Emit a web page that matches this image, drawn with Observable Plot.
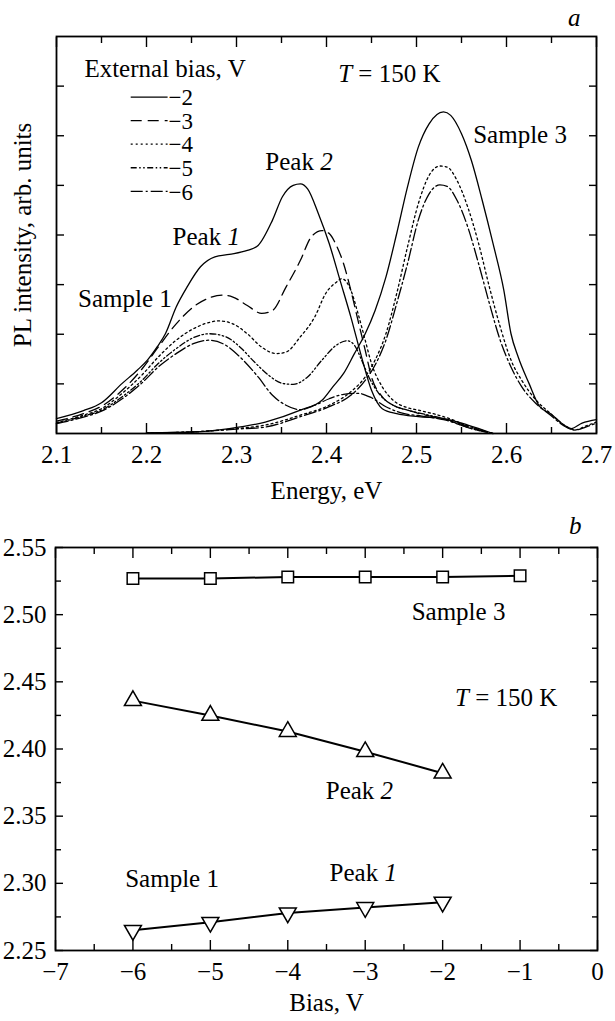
<!DOCTYPE html>
<html><head><meta charset="utf-8">
<script src="https://cdn.jsdelivr.net/npm/d3@7"></script>
<script src="https://cdn.jsdelivr.net/npm/@observablehq/plot@0.6"></script>
<style>
html,body{margin:0;padding:0;background:#fff;}
#wrap{position:relative;width:615px;height:1021px;}
#pa{position:absolute;left:0;top:0;}
#pb{position:absolute;left:0;top:510px;}
svg text{font-family:'Liberation Serif','Times New Roman',serif;}
</style></head><body><div id="wrap"><div id="pa"></div><div id="pb"></div></div>
<script>
// ---------- Panel a: PL spectra [energy eV, intensity arb. units] ----------
const s1_m2 = [[2.100,0.30],[2.130,0.46],[2.150,0.62],[2.173,1.01],[2.190,1.28],[2.201,1.48],[2.212,1.75],[2.221,2.01],[2.233,2.55],[2.245,2.95],[2.260,3.36],[2.276,3.56],[2.292,3.61],[2.312,3.69],[2.324,3.79],[2.340,4.30],[2.351,4.77],[2.363,5.00],[2.371,5.03],[2.379,4.93],[2.391,4.43],[2.403,3.83],[2.415,3.09],[2.427,2.35],[2.439,1.54],[2.450,0.87],[2.462,0.50],[2.478,0.40],[2.502,0.34],[2.530,0.30],[2.557,0.17],[2.585,0.00]];
const s1_m3 = [[2.100,0.25],[2.130,0.40],[2.150,0.55],[2.173,0.87],[2.195,1.30],[2.213,1.74],[2.233,2.21],[2.252,2.55],[2.268,2.72],[2.284,2.79],[2.296,2.75],[2.312,2.58],[2.328,2.42],[2.340,2.48],[2.355,2.95],[2.371,3.49],[2.383,3.96],[2.395,4.09],[2.403,4.03],[2.411,3.79],[2.419,3.42],[2.427,2.89],[2.435,2.28],[2.443,1.68],[2.450,1.14],[2.462,0.74],[2.474,0.57],[2.490,0.47],[2.510,0.37],[2.530,0.30],[2.561,0.12],[2.585,0.00]];
const s1_m4 = [[2.100,0.22],[2.130,0.37],[2.150,0.50],[2.173,0.81],[2.195,1.18],[2.213,1.54],[2.233,1.88],[2.252,2.11],[2.268,2.23],[2.280,2.27],[2.296,2.21],[2.312,2.01],[2.328,1.74],[2.344,1.61],[2.355,1.64],[2.371,1.95],[2.387,2.35],[2.399,2.82],[2.411,3.05],[2.417,3.12],[2.427,2.89],[2.435,2.42],[2.443,1.88],[2.450,1.41],[2.462,0.94],[2.474,0.67],[2.490,0.52],[2.502,0.47],[2.530,0.34],[2.561,0.13],[2.585,0.00]];
const s1_m5 = [[2.100,0.21],[2.130,0.35],[2.150,0.47],[2.173,0.74],[2.195,1.07],[2.213,1.41],[2.233,1.71],[2.252,1.93],[2.270,2.01],[2.288,1.95],[2.304,1.74],[2.320,1.44],[2.336,1.17],[2.351,1.01],[2.363,0.99],[2.379,1.14],[2.395,1.48],[2.411,1.78],[2.423,1.87],[2.431,1.78],[2.439,1.48],[2.447,1.14],[2.458,0.81],[2.474,0.57],[2.490,0.47],[2.506,0.40],[2.530,0.30],[2.561,0.10],[2.585,0.00]];
const s1_m6 = [[2.100,0.20],[2.130,0.33],[2.150,0.45],[2.173,0.70],[2.195,1.02],[2.213,1.34],[2.233,1.61],[2.252,1.81],[2.270,1.88],[2.288,1.78],[2.304,1.54],[2.324,1.14],[2.340,0.77],[2.355,0.57],[2.371,0.48],[2.387,0.57],[2.403,0.70],[2.419,0.79],[2.435,0.81],[2.450,0.72],[2.466,0.54],[2.482,0.42],[2.506,0.35],[2.530,0.28],[2.561,0.10],[2.585,0.00]];
const s3_solid = [[2.200,0.01],[2.252,0.03],[2.292,0.10],[2.332,0.23],[2.371,0.47],[2.395,0.67],[2.407,0.94],[2.419,1.21],[2.431,1.61],[2.443,2.01],[2.454,2.48],[2.466,3.15],[2.478,4.03],[2.490,4.97],[2.502,5.77],[2.514,6.24],[2.530,6.48],[2.538,6.41],[2.550,6.04],[2.561,5.50],[2.573,4.70],[2.585,3.83],[2.597,2.89],[2.605,2.01],[2.613,1.54],[2.625,1.01],[2.637,0.54],[2.649,0.40],[2.664,0.17],[2.672,0.10],[2.684,0.21],[2.700,0.28]];
const s3_dotted = [[2.200,0.01],[2.260,0.04],[2.300,0.10],[2.332,0.17],[2.371,0.37],[2.403,0.57],[2.427,0.84],[2.443,1.14],[2.454,1.48],[2.466,2.01],[2.478,2.82],[2.490,3.76],[2.502,4.63],[2.514,5.20],[2.526,5.39],[2.534,5.37],[2.545,5.10],[2.557,4.56],[2.569,3.83],[2.581,2.95],[2.593,2.15],[2.605,1.48],[2.617,1.07],[2.633,0.67],[2.649,0.40],[2.664,0.17],[2.676,0.07],[2.688,0.15],[2.700,0.23]];
const s3_dashdot = [[2.200,0.01],[2.260,0.04],[2.300,0.09],[2.332,0.13],[2.371,0.34],[2.403,0.54],[2.427,0.77],[2.443,1.07],[2.454,1.38],[2.466,1.88],[2.478,2.62],[2.490,3.42],[2.502,4.30],[2.514,4.83],[2.526,5.01],[2.534,4.98],[2.545,4.70],[2.557,4.16],[2.569,3.42],[2.581,2.62],[2.593,1.88],[2.605,1.34],[2.617,0.94],[2.633,0.60],[2.649,0.37],[2.664,0.15],[2.676,0.07],[2.688,0.13],[2.700,0.21]];
const energyTicks = [2.1,2.2,2.3,2.4,2.5,2.6,2.7];
const energyMinor = [2.15,2.25,2.35,2.45,2.55,2.65];
const intensityTicks = [1,2,3,4,5,6,7];
const legendLabels = ["\u22122","\u22123","\u22124","\u22125","\u22126"];

// ---------- Panel b: peak positions vs bias ----------
const biasS3 = [-6,-5,-4,-3,-2,-1];
const peakS3 = [2.527,2.527,2.528,2.528,2.528,2.529];
const biasPk = [-6,-5,-4,-3,-2];
const peak2 = [2.436,2.425,2.413,2.398,2.382];
const peak1 = [2.265,2.271,2.278,2.282,2.286];
const biasTicks = [-7,-6,-5,-4,-3,-2,-1,0];
const biasMinor = [-6.5,-5.5,-4.5,-3.5,-2.5,-1.5,-0.5];
const eTicksB = [2.25,2.30,2.35,2.40,2.45,2.50,2.55];
const eMinorB = [2.275,2.325,2.375,2.425,2.475,2.525];

// ---------- styling ----------
const FONT = "Liberation Serif, Times New Roman, serif";
const FS = 25;
const INK = "#000";
const dashes = {m2: null, m3: "11,6", m4: "2,3", m5: "6,2.5,1.5,2.5,1.5,2.5", m6: "12,3,2,3"};
const style = {fontFamily: FONT, fontSize: FS + "px", color: INK, background: "transparent", overflow: "visible"};
const minus = d => d < 0 ? "\u2212" + Math.abs(d) : String(d);
const toRows = pts => pts.map(([e, v]) => ({e, v}));
const T = {fontFamily: FONT, fontSize: FS, fill: INK};

function lineA(pts, dash, sw = 1.3) {
  return Plot.line(toRows(pts), {x: "e", y: "v", curve: "monotone-x", stroke: INK, strokeWidth: sw, strokeDasharray: dash});
}
function frameTicks(xMaj, xMin, yMaj, yMin, fmtX, fmtY, yPad) {
  const m = [];
  for (const a of ["bottom", "top"]) {
    m.push(Plot.axisX(xMaj, {anchor: a, tickSize: -10, strokeWidth: 1.4, tickFormat: () => "", label: null}));
    if (xMin) m.push(Plot.axisX(xMin, {anchor: a, tickSize: -6, strokeWidth: 1.4, tickFormat: () => "", label: null}));
  }
  for (const a of ["left", "right"]) {
    m.push(Plot.axisY(yMaj, {anchor: a, tickSize: -8, strokeWidth: 1.4, tickFormat: () => "", label: null}));
    if (yMin) m.push(Plot.axisY(yMin, {anchor: a, tickSize: -6, strokeWidth: 1.4, tickFormat: () => "", label: null}));
  }
  m.push(Plot.axisX(xMaj, {anchor: "bottom", tickSize: 0, tickPadding: 12, tickFormat: fmtX, fontSize: FS, fontFamily: FONT, label: null}));
  if (fmtY) m.push(Plot.axisY(yMaj, {anchor: "left", tickSize: 0, tickPadding: yPad, tickFormat: fmtY, fontSize: FS, fontFamily: FONT, label: null}));
  return m;
}
function richify(svg) {
  d3.select(svg).selectAll("text").each(function () {
    const t = this.textContent;
    const m = /^Peak (\d)$/.exec(t);
    if (m) { this.textContent = "Peak "; d3.select(this).append("tspan").attr("font-style", "italic").text(m[1]); }
    else if (t === "T = 150 K") { this.textContent = ""; const s = d3.select(this); s.append("tspan").attr("font-style", "italic").text("T"); s.append("tspan").text(" = 150 K"); }
  });
}

// annotations (data coordinates, baseline)
const annotA = [
  {t: "External bias, V", x: 2.131, y: 7.19},
  {t: "T = 150 K", x: 2.413, y: 7.08},
  {t: "Peak 2", x: 2.332, y: 5.30},
  {t: "Peak 1", x: 2.229, y: 3.79},
  {t: "Sample 1", x: 2.124, y: 2.55},
  {t: "Sample 3", x: 2.563, y: 5.86}
];
const annotB = [
  {t: "Sample 3", x: -2.40, y: 2.4957},
  {t: "T = 150 K", x: -1.84, y: 2.432},
  {t: "Peak 2", x: -3.51, y: 2.363},
  {t: "Sample 1", x: -6.10, y: 2.297},
  {t: "Peak 1", x: -3.46, y: 2.302}
];

const plotA = Plot.plot({
  width: 615, height: 510,
  marginLeft: 56, marginRight: 19, marginTop: 36, marginBottom: 77,
  style,
  x: {domain: [2.1, 2.7], label: null},
  y: {domain: [0, 8], label: null},
  marks: [
    ...frameTicks(energyTicks, energyMinor, intensityTicks, null, d => d.toFixed(1), null, 0),
    lineA(s3_dashdot, dashes.m6), lineA(s3_dotted, dashes.m4), lineA(s3_solid, null),
    lineA(s1_m6, dashes.m6), lineA(s1_m5, dashes.m5), lineA(s1_m4, dashes.m4), lineA(s1_m3, dashes.m3), lineA(s1_m2, null),
    Plot.frame({stroke: INK, strokeWidth: 1.8}),
    Plot.text(annotA, {x: "x", y: "y", text: "t", textAnchor: "start", lineAnchor: "bottom", ...T}),
    Plot.text(["a"], {frameAnchor: "top-right", dx: -16, dy: -11, lineAnchor: "bottom", textAnchor: "end", fontStyle: "italic", ...T}),
    Plot.text(["PL intensity, arb. units"], {frameAnchor: "left", textAnchor: "middle", rotate: -90, dx: -34, ...T}),
    Plot.text(["Energy, eV"], {frameAnchor: "bottom", textAnchor: "middle", dy: 65, lineAnchor: "bottom", ...T})
  ]
});
richify(plotA);
// legend, positioned through the plot's own scales
{
  const sx = plotA.scale("x"), sy = plotA.scale("y");
  const g = d3.select(plotA).append("g").attr("font-family", FONT).attr("font-size", 23).attr("fill", INK);
  const keys = ["m2", "m3", "m4", "m5", "m6"];
  legendLabels.forEach((lab, i) => {
    const y = sy.apply(6.77 - i * 0.475);
    g.append("line").attr("x1", sx.apply(2.183)).attr("x2", sx.apply(2.224)).attr("y1", y).attr("y2", y)
      .attr("stroke", INK).attr("stroke-width", 1.3).attr("stroke-dasharray", dashes[keys[i]]);
    g.append("text").attr("x", sx.apply(2.2385)).attr("y", y).attr("dy", "0.36em").text(lab);
  });
}
document.getElementById("pa").appendChild(plotA);

// custom down-pointing triangle symbol
const triDown = {draw(ctx, size) { const y = -Math.sqrt(size / (Math.sqrt(3) * 3)); ctx.moveTo(0, -2 * y); ctx.lineTo(-Math.sqrt(3) * y, y); ctx.lineTo(Math.sqrt(3) * y, y); ctx.closePath(); }};
const rowsS3 = biasS3.map((b, i) => ({b, e: peakS3[i]}));
const rowsP2 = biasPk.map((b, i) => ({b, e: peak2[i]}));
const rowsP1 = biasPk.map((b, i) => ({b, e: peak1[i]}));

const plotB = Plot.plot({
  width: 615, height: 511,
  marginLeft: 55, marginRight: 18, marginTop: 37, marginBottom: 71,
  style,
  x: {domain: [-7, 0], label: null},
  y: {domain: [2.25, 2.55], label: null},
  marks: [
    ...frameTicks(biasTicks, biasMinor, eTicksB, eMinorB, minus, d => d.toFixed(2), 9),
    Plot.line(rowsS3, {x: "b", y: "e", stroke: INK, strokeWidth: 2}),
    Plot.line(rowsP2, {x: "b", y: "e", stroke: INK, strokeWidth: 2}),
    Plot.line(rowsP1, {x: "b", y: "e", stroke: INK, strokeWidth: 2}),
    Plot.dot(rowsS3, {x: "b", y: "e", symbol: "square", r: 6.5, fill: "white", stroke: INK, strokeWidth: 1.5}),
    Plot.dot(rowsP2, {x: "b", y: "e", symbol: "triangle", r: 6.3, fill: "white", stroke: INK, strokeWidth: 1.5}),
    Plot.dot(rowsP1, {x: "b", y: "e", symbol: triDown, r: 6.3, fill: "white", stroke: INK, strokeWidth: 1.5}),
    Plot.frame({stroke: INK, strokeWidth: 1.8}),
    Plot.text(annotB, {x: "x", y: "y", text: "t", textAnchor: "start", lineAnchor: "bottom", ...T}),
    Plot.text(["b"], {frameAnchor: "top-right", dx: -16, dy: -14, lineAnchor: "bottom", textAnchor: "end", fontStyle: "italic", ...T}),
    Plot.text(["Bias, V"], {frameAnchor: "bottom", textAnchor: "middle", dy: 60, lineAnchor: "bottom", ...T})
  ]
});
richify(plotB);
document.getElementById("pb").appendChild(plotB);
</script></body></html>
